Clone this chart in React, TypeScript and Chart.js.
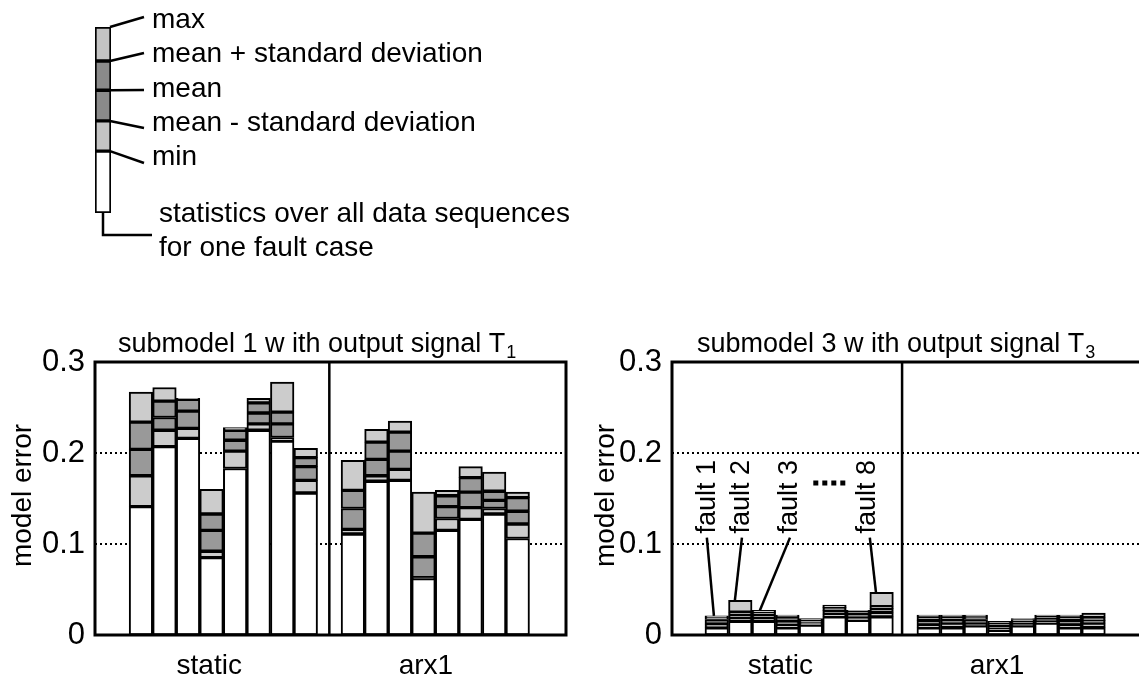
import React, { useEffect, useRef } from 'react';
import { Chart, registerables } from 'chart.js';

Chart.register(...registerables);

const FONT = '"Liberation Sans", Arial, Helvetica, sans-serif';
const LIGHT = '#cccccc';
const DARK = '#999999';
const LEG_LIGHT = '#c4c4c4';
const LEG_DARK = '#8a8a8a';

// ---------- data ----------
const groupLabels = ['static', 'arx1'];
// fault 1..8 for "static", then fault 1..8 for "arx1"
const barPositions = [1, 2, 3, 4, 5, 6, 7, 8, 10, 11, 12, 13, 14, 15, 16, 17];
const yTickValues = [0, 0.1, 0.2, 0.3];
const yTickLabels = ['0', '0.1', '0.2', '0.3'];
const gridValues = [0.1, 0.2];

// submodel 1 (output signal T1)
const sub1Min = [0.141, 0.207, 0.216, 0.085, 0.183, 0.225, 0.213, 0.156, 0.111, 0.169, 0.170, 0.062, 0.115, 0.127, 0.133, 0.106];
const sub1MeanMinusSd = [0.175, 0.225, 0.227, 0.092, 0.202, 0.232, 0.217, 0.170, 0.116, 0.175, 0.182, 0.063, 0.128, 0.140, 0.139, 0.122];
const sub1Mean = [0.204, 0.239, 0.246, 0.115, 0.214, 0.244, 0.232, 0.185, 0.139, 0.193, 0.202, 0.086, 0.141, 0.157, 0.148, 0.136];
const sub1MeanPlusSd = [0.234, 0.257, 0.259, 0.133, 0.225, 0.255, 0.245, 0.195, 0.159, 0.212, 0.223, 0.112, 0.153, 0.173, 0.158, 0.151];
const sub1Max = [0.267, 0.272, 0.260, 0.160, 0.228, 0.260, 0.278, 0.205, 0.192, 0.226, 0.235, 0.157, 0.159, 0.185, 0.179, 0.157];

// submodel 3 (output signal T3)
const sub3Min = [0.008, 0.015, 0.015, 0.008, 0.011, 0.020, 0.016, 0.020, 0.008, 0.008, 0.010, 0.005, 0.010, 0.013, 0.008, 0.008];
const sub3MeanMinusSd = [0.012, 0.019, 0.019, 0.011, 0.012, 0.023, 0.019, 0.025, 0.011, 0.013, 0.012, 0.007, 0.012, 0.015, 0.011, 0.013];
const sub3Mean = [0.017, 0.022, 0.022, 0.015, 0.014, 0.027, 0.023, 0.029, 0.016, 0.016, 0.017, 0.010, 0.015, 0.018, 0.016, 0.016];
const sub3MeanPlusSd = [0.019, 0.025, 0.025, 0.020, 0.016, 0.030, 0.026, 0.031, 0.020, 0.020, 0.020, 0.013, 0.017, 0.021, 0.020, 0.019];
const sub3Max = [0.021, 0.038, 0.027, 0.022, 0.018, 0.033, 0.027, 0.047, 0.022, 0.022, 0.022, 0.015, 0.018, 0.022, 0.022, 0.024];

// fault annotations (submodel 3)
const faultLabels = ['fault 1', 'fault 2', 'fault 3', 'fault 8'];
const faultBarIdx = [0, 1, 2, 7];
const faultLabelX = [0.62, 2.07, 4.1, 7.4];
const faultLabelY = 0.152;
const faultLineTopX = [0.58, 2.07, 4.11, 7.5];
const faultLineTopY = 0.107;
const faultLineBottomX = [0.88, 1.77, 2.83, 7.76];
const ellipsisX = [5.1, 6.5];
const ellipsisY = 0.167;

// legend schematic
const legendLabels = ['min', 'mean - standard deviation', 'mean', 'mean + standard deviation', 'max'];
const legendStops = [0.333, 0.495, 0.66, 0.817, 1.0];
const legendNote = ['statistics over all data sequences', 'for one fault case'];

type Stats = { min: number[]; msd: number[]; mean: number[]; psd: number[]; max: number[] };

function segDatasets(stats: Stats) {
  const zero = stats.min.map(() => 0);
  const segs = [
    { lo: zero, hi: stats.min, color: '#ffffff' },
    { lo: stats.min, hi: stats.msd, color: LIGHT },
    { lo: stats.msd, hi: stats.mean, color: DARK },
    { lo: stats.mean, hi: stats.psd, color: DARK },
    { lo: stats.psd, hi: stats.max, color: LIGHT },
  ];
  return segs.map((s) => ({
    data: barPositions.map((p, i) => ({ x: p, y: [s.lo[i], s.hi[i]] })),
    backgroundColor: s.color,
    borderColor: '#000000',
    borderWidth: 2,
    borderSkipped: false as const,
    grouped: false,
    barPercentage: 1,
    categoryPercentage: 1,
  }));
}

interface PanelCfg {
  stats: Stats;
  xMin: number;
  xMax: number;
  dividerPos: number;
  groupTickPos: number[];
  yAxisWidth: number;
  padRight: number;
  title: string;
  titleSub: string;
  titleOffset: number;
  axisTitleOffset: number;
  rightBorder: boolean;
  annotate?: (chart: any) => void;
}

function buildPanel(canvas: HTMLCanvasElement, cfg: PanelCfg) {
  const deco = {
    id: 'deco',
    beforeDatasetsDraw(chart: any) {
      const { ctx, chartArea: a, scales } = chart;
      const y = scales.y;
      ctx.save();
      ctx.strokeStyle = '#000';
      ctx.lineWidth = 2;
      ctx.setLineDash([2, 3]);
      for (const v of gridValues) {
        const py = Math.round(y.getPixelForValue(v));
        ctx.beginPath();
        ctx.moveTo(a.left, py);
        ctx.lineTo(a.right, py);
        ctx.stroke();
      }
      ctx.restore();
    },
    afterDatasetsDraw(chart: any) {
      const { ctx, chartArea: a, scales } = chart;
      const x = scales.x;
      ctx.save();
      ctx.strokeStyle = '#000';
      ctx.setLineDash([]);
      ctx.lineWidth = 3;
      ctx.lineJoin = 'miter';
      ctx.beginPath();
      if (cfg.rightBorder) {
        ctx.rect(a.left, a.top, a.right - a.left, a.bottom - a.top);
      } else {
        ctx.moveTo(a.right, a.top);
        ctx.lineTo(a.left, a.top);
        ctx.lineTo(a.left, a.bottom);
        ctx.lineTo(a.right, a.bottom);
      }
      ctx.stroke();
      // group divider
      const dx = x.getPixelForValue(cfg.dividerPos);
      ctx.lineWidth = 2.5;
      ctx.beginPath();
      ctx.moveTo(dx, a.top);
      ctx.lineTo(dx, a.bottom);
      ctx.stroke();
      // title
      ctx.fillStyle = '#000';
      ctx.font = `27px ${FONT}`;
      ctx.textAlign = 'left';
      ctx.textBaseline = 'alphabetic';
      const tx = a.left + cfg.titleOffset;
      const ty = a.top - 10;
      ctx.fillText(cfg.title, tx, ty);
      const w = ctx.measureText(cfg.title).width;
      ctx.font = `18px ${FONT}`;
      ctx.fillText(cfg.titleSub, tx + w + 1, ty + 6);
      // axis title
      ctx.save();
      ctx.translate(a.left - cfg.axisTitleOffset, (a.top + a.bottom) / 2 - 3);
      ctx.rotate(-Math.PI / 2);
      ctx.font = `28px ${FONT}`;
      ctx.textAlign = 'center';
      ctx.textBaseline = 'middle';
      ctx.fillText('model error', 0, 0);
      ctx.restore();
      if (cfg.annotate) cfg.annotate(chart);
      ctx.restore();
    },
  };

  return new Chart(canvas, {
    type: 'bar',
    data: { datasets: segDatasets(cfg.stats) as any },
    options: {
      responsive: false,
      animation: false,
      events: [],
      layout: { padding: { left: 0, right: cfg.padRight, top: 62, bottom: 0 } },
      plugins: { legend: { display: false }, tooltip: { enabled: false }, title: { display: false } },
      scales: {
        x: {
          type: 'linear',
          min: cfg.xMin,
          max: cfg.xMax,
          offset: false,
          grid: { display: false },
          border: { display: false },
          afterBuildTicks: (s: any) => {
            s.ticks = cfg.groupTickPos.map((v) => ({ value: v }));
          },
          afterFit: (s: any) => {
            s.height = 45;
          },
          ticks: {
            autoSkip: false,
            maxRotation: 0,
            padding: 6,
            color: '#000',
            font: { family: FONT, size: 28 },
            callback: (_v: any, i: number) => groupLabels[i],
          },
        },
        y: {
          type: 'linear',
          min: 0,
          max: 0.3,
          grid: { display: false, drawTicks: false },
          border: { display: false },
          afterBuildTicks: (s: any) => {
            s.ticks = yTickValues.map((v) => ({ value: v }));
          },
          afterFit: (s: any) => {
            s.width = cfg.yAxisWidth;
          },
          ticks: {
            padding: 10,
            color: '#000',
            font: { family: FONT, size: 31 },
            callback: (_v: any, i: number) => yTickLabels[i],
          },
        },
      },
    } as any,
    plugins: [deco],
  });
}

function annotateFaults(chart: any) {
  const { ctx, scales } = chart;
  const x = scales.x;
  const y = scales.y;
  ctx.save();
  ctx.strokeStyle = '#000';
  ctx.fillStyle = '#000';
  ctx.lineWidth = 2.5;
  ctx.setLineDash([]);
  faultLabels.forEach((lab, i) => {
    ctx.beginPath();
    ctx.moveTo(x.getPixelForValue(faultLineTopX[i]), y.getPixelForValue(faultLineTopY));
    ctx.lineTo(x.getPixelForValue(faultLineBottomX[i]), y.getPixelForValue(sub3Max[faultBarIdx[i]]));
    ctx.stroke();
    ctx.save();
    ctx.translate(x.getPixelForValue(faultLabelX[i]), y.getPixelForValue(faultLabelY));
    ctx.rotate(-Math.PI / 2);
    ctx.font = `27px ${FONT}`;
    ctx.textAlign = 'center';
    ctx.textBaseline = 'middle';
    ctx.fillText(lab, 0, 0);
    ctx.restore();
  });
  ctx.lineWidth = 5;
  ctx.setLineDash([5, 4]);
  ctx.beginPath();
  const ey = y.getPixelForValue(ellipsisY);
  ctx.moveTo(x.getPixelForValue(ellipsisX[0]), ey);
  ctx.lineTo(x.getPixelForValue(ellipsisX[1]), ey);
  ctx.stroke();
  ctx.restore();
}

function buildLegend(canvas: HTMLCanvasElement) {
  const colors = ['#ffffff', LEG_LIGHT, LEG_DARK, LEG_DARK, LEG_LIGHT];
  const bounds = [0, ...legendStops];
  const datasets = colors.map((c, i) => ({
    data: [[bounds[i], bounds[i + 1]]],
    backgroundColor: c,
    borderColor: '#000',
    borderWidth: 2,
    borderSkipped: false as const,
    grouped: false,
    barPercentage: 1,
    categoryPercentage: 1,
  }));
  const lineEndY = [163, 128, 90, 53, 17];
  const textBase = [165, 131, 97, 62, 28];
  const deco = {
    id: 'legdeco',
    afterDatasetsDraw(chart: any) {
      const { ctx, chartArea: a, scales } = chart;
      const y = scales.y;
      const x = scales.x;
      ctx.save();
      ctx.strokeStyle = '#000';
      ctx.fillStyle = '#000';
      ctx.lineWidth = 2.5;
      ctx.font = `28px ${FONT}`;
      ctx.textBaseline = 'alphabetic';
      ctx.textAlign = 'left';
      legendLabels.forEach((lab, i) => {
        ctx.beginPath();
        ctx.moveTo(a.right - 1, y.getPixelForValue(legendStops[i]));
        ctx.lineTo(a.right + 33, lineEndY[i]);
        ctx.stroke();
        ctx.fillText(lab, a.right + 41, textBase[i]);
      });
      const bx = x.getPixelForValue(0);
      const by = y.getPixelForValue(0);
      ctx.beginPath();
      ctx.moveTo(bx, by);
      ctx.lineTo(bx, by + 22);
      ctx.lineTo(bx + 49, by + 22);
      ctx.stroke();
      ctx.fillText(legendNote[0], a.right + 48, 222);
      ctx.fillText(legendNote[1], a.right + 48, 256);
      ctx.restore();
    },
  };
  return new Chart(canvas, {
    type: 'bar',
    data: { labels: [''], datasets: datasets as any },
    options: {
      responsive: false,
      animation: false,
      events: [],
      layout: { padding: { left: 95, right: 620 - 111, top: 27, bottom: 270 - 213 } },
      plugins: { legend: { display: false }, tooltip: { enabled: false } },
      scales: {
        x: { display: false },
        y: { display: false, min: 0, max: 1 },
      },
    } as any,
    plugins: [deco],
  });
}

function ChartCanvas(props: { left: number; top: number; width: number; height: number; build: (c: HTMLCanvasElement) => Chart }) {
  const ref = useRef<HTMLCanvasElement>(null);
  useEffect(() => {
    const chart = props.build(ref.current as HTMLCanvasElement);
    return () => chart.destroy();
  }, []);
  return (
    <canvas
      ref={ref}
      width={props.width}
      height={props.height}
      style={{ position: 'absolute', left: props.left, top: props.top, width: props.width, height: props.height }}
    />
  );
}

export default function App() {
  const sub1: Stats = { min: sub1Min, msd: sub1MeanMinusSd, mean: sub1Mean, psd: sub1MeanPlusSd, max: sub1Max };
  const sub3: Stats = { min: sub3Min, msd: sub3MeanMinusSd, mean: sub3Mean, psd: sub3MeanPlusSd, max: sub3Max };
  return (
    <div style={{ position: 'absolute', left: 0, top: 0, width: 1139, height: 680, background: '#fff', overflow: 'hidden' }}>
      <ChartCanvas left={0} top={0} width={620} height={270} build={buildLegend} />
      <ChartCanvas
        left={0}
        top={300}
        width={575}
        height={380}
        build={(c) =>
          buildPanel(c, {
            stats: sub1,
            xMin: -0.95,
            xMax: 19.05,
            dividerPos: 9,
            groupTickPos: [3.9, 13.1],
            yAxisWidth: 95,
            padRight: 9,
            title: 'submodel 1 w ith output signal T',
            titleSub: '1',
            titleOffset: 23,
            axisTitleOffset: 72,
            rightBorder: true,
          })
        }
      />
      <ChartCanvas
        left={580}
        top={300}
        width={559}
        height={380}
        build={(c) =>
          buildPanel(c, {
            stats: sub3,
            xMin: -0.9,
            xMax: 18.93,
            dividerPos: 8.87,
            groupTickPos: [3.7, 12.9],
            yAxisWidth: 92,
            padRight: 0,
            title: 'submodel 3 w ith output signal T',
            titleSub: '3',
            titleOffset: 25,
            axisTitleOffset: 66,
            rightBorder: false,
            annotate: annotateFaults,
          })
        }
      />
    </div>
  );
}
